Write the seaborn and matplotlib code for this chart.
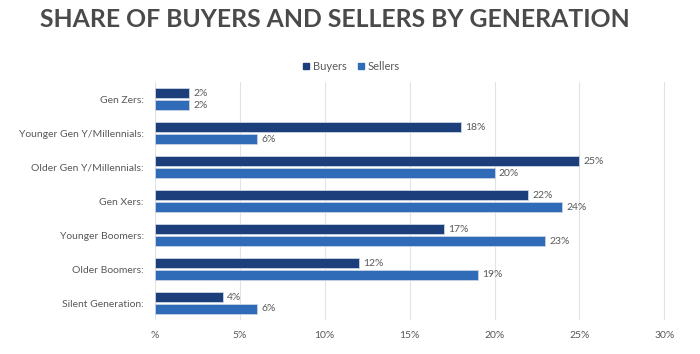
import matplotlib
matplotlib.use("Agg")
import matplotlib.pyplot as plt
import pandas as pd
import seaborn as sns
from matplotlib.lines import Line2D

# chart data
generations = [
    "Gen Zers:",
    "Younger Gen Y/Millennials:",
    "Older Gen Y/Millennials:",
    "Gen Xers:",
    "Younger Boomers:",
    "Older Boomers:",
    "Silent Generation:",
]
buyers = [2, 18, 25, 22, 17, 12, 4]
sellers = [2, 6, 20, 24, 23, 19, 6]
series_names = ["Buyers", "Sellers"]
x_ticks = [0, 5, 10, 15, 20, 25, 30]
x_tick_labels = ["%", "5%", "10%", "15%", "20%", "25%", "30%"]

colors = ["#1c3f7c", "#2f6bb7"]
text_gray = "#595959"

df = pd.DataFrame(
    {
        "Generation": generations * 2,
        "Share": buyers + sellers,
        "Type": [series_names[0]] * len(buyers) + [series_names[1]] * len(sellers),
    }
)

sns.set_style("white")
plt.rcParams["font.family"] = ["Lato", "DejaVu Sans"]

fig = plt.figure(figsize=(7, 3.54), dpi=100)
ax = fig.add_axes([0.2214, 0.096, 0.73, 0.672])

sns.barplot(
    data=df,
    y="Generation",
    x="Share",
    hue="Type",
    order=generations,
    hue_order=series_names,
    palette=colors,
    saturation=1,
    orient="h",
    width=0.7,
    gap=0.12,
    edgecolor="#c9d3e3",
    linewidth=0.6,
    legend=False,
    ax=ax,
)

for container in ax.containers:
    ax.bar_label(container, fmt="%d%%", padding=3, fontsize=7.5, color=text_gray)

ax.set_xlim(0, 30.1)
ax.set_ylim(len(generations) - 0.5, -0.5)
ax.set_xticks(x_ticks)
ax.set_xticklabels(x_tick_labels)
ax.grid(axis="x", color="#e3e3e3", linewidth=0.8)
ax.set_axisbelow(True)
for s in ax.spines.values():
    s.set_visible(False)
ax.tick_params(axis="both", length=0, labelsize=7.5, colors=text_gray, pad=8)
ax.set_xlabel("")
ax.set_ylabel("")

fig.text(0.479, 0.945, "SHARE OF BUYERS AND SELLERS BY GENERATION",
         ha="center", va="center", fontsize=17.8, fontweight="bold", color="#4a4a4a")

handles = [Line2D([0], [0], marker="s", linestyle="", markersize=5,
                  markerfacecolor=c, markeredgecolor=c) for c in colors]
fig.legend(handles, series_names, loc="center", bbox_to_anchor=(0.5, 0.812),
           ncol=2, frameon=False, fontsize=8, labelcolor=text_gray,
           handletextpad=0.1, columnspacing=0.8, handlelength=1)

fig.savefig("out.png", dpi=100, facecolor="white")
